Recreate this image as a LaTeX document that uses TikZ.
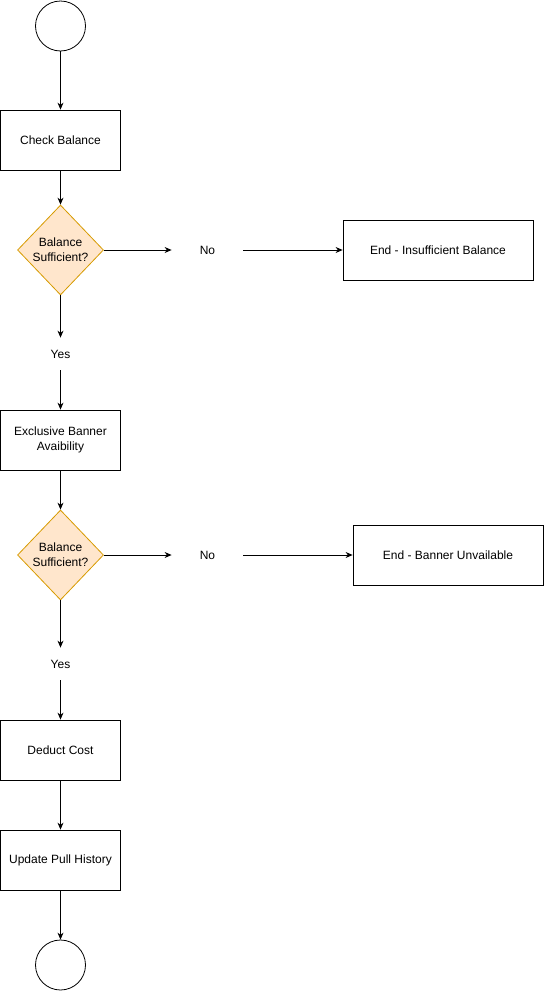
\documentclass[tikz,border=0pt]{standalone}
\usepackage{fontspec}
\setmainfont{Liberation Sans}
\usetikzlibrary{arrows.meta, shapes.geometric}

\definecolor{decfill}{HTML}{FFE6CC}
\definecolor{decline}{HTML}{D79B00}

\begin{document}
\begin{tikzpicture}[x=1pt, y=-1pt, line width=0.8pt,
    every node/.style={font=\fontsize{12}{15}\selectfont},
    stepbox/.style={draw, minimum width=120pt, minimum height=60pt, inner sep=0pt, align=center},
    endbox/.style={stepbox, minimum width=190pt},
    decision/.style={diamond, draw=decline, fill=decfill, minimum width=86pt, minimum height=90pt, inner sep=0pt},
    terminal/.style={circle, draw, minimum size=50pt, inner sep=0pt},
    nolabel/.style={minimum width=71pt, inner sep=0pt},
    yeslabel/.style={minimum height=32pt, inner sep=0pt},
    flow/.style={-{Stealth[length=7pt, width=6pt]}}]
%    \tikzstyle{every node} = [draw]
    \useasboundingbox (0, 0) rectangle (544, 991);
    \node [terminal] (start) at (60.5, 26) {};
    \node [stepbox] (check) at (60.5, 140) {Check Balance};
    \node [decision, label={[align=center]center:Balance\\Sufficient?}] (dec1) at (60.5, 250) {};
    \node [nolabel] (no1) at (207.5, 250) {No};
    \node [endbox] (insuff) at (438, 250) {End - Insufficient Balance};
    \node [yeslabel] (yes1) at (60.5, 354) {Yes};
    \node [stepbox] (avail) at (60.5, 440) {Exclusive Banner\\Avaibility};
    \node [decision, label={[align=center]center:Balance\\Sufficient?}] (dec2) at (60.5, 555) {};
    \node [nolabel] (no2) at (207.5, 555) {No};
    \node [endbox] (unavail) at (448, 555) {End - Banner Unvailable};
    \node [yeslabel] (yes2) at (60.5, 664) {Yes};
    \node [stepbox] (deduct) at (60.5, 750) {Deduct Cost};
    \node [stepbox] (update) at (60.5, 860) {Update Pull History};
    \node [terminal] (finish) at (60.5, 965) {};
    % main line
    \draw [flow] (start) -- (check);
    \draw [flow] (check) -- (dec1);
    \draw [flow] (dec1) -- (yes1);
    \draw [flow] (yes1) -- (avail);
    \draw [flow] (avail) -- (dec2);
    \draw [flow] (dec2) -- (yes2);
    \draw [flow] (yes2) -- (deduct);
    \draw [flow] (deduct) -- (update);
    \draw [flow] (update) -- (finish);
    % no branches
    \draw [flow] (dec1) -- (no1);
    \draw [flow] (no1) -- (insuff);
    \draw [flow] (dec2) -- (no2);
    \draw [flow] (no2) -- (unavail);
  \end{tikzpicture}
\end{document}
